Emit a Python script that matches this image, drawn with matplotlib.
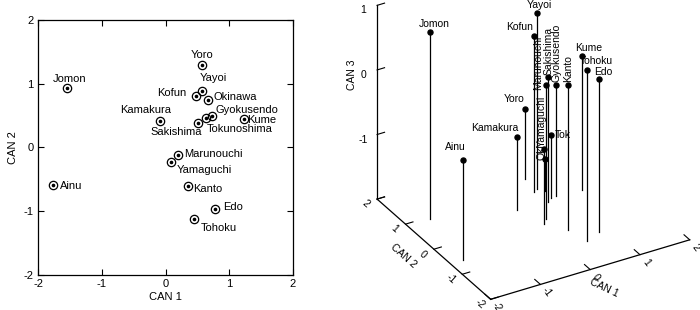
import matplotlib
matplotlib.use('Agg')
import matplotlib.pyplot as plt
import matplotlib.transforms as mtransforms

plt.rcParams['font.family'] = ['Liberation Sans', 'DejaVu Sans']
plt.rcParams['axes.unicode_minus'] = False

# canonical scores
names = ['Jomon', 'Ainu', 'Yoro', 'Yayoi', 'Kofun', 'Okinawa', 'Kamakura', 'Gyokusendo',
         'Kume', 'Sakishima', 'Tokunoshima', 'Marunouchi', 'Yamaguchi', 'Kanto', 'Edo', 'Tohoku']
can1 = [-1.55, -1.76, 0.57, 0.58, 0.48, 0.66, -0.09, 0.73, 1.23, 0.51, 0.63, 0.20, 0.08, 0.35, 0.77, 0.44]
can2 = [0.93, -0.59, 1.29, 0.89, 0.81, 0.75, 0.42, 0.50, 0.45, 0.39, 0.47, -0.11, -0.22, -0.61, -0.97, -1.12]
can3 = [0.90, -0.45, -0.92, 0.72, 0.41, -1.50, -0.87, -0.28, 0.07, -0.06, -1.02, 0.08, -0.84, 0.24, 0.37, 0.64]
# labels as printed in the 3-D panel (two are cut short there)
names3d = ['Jomon', 'Ainu', 'Yoro', 'Yayoi', 'Kofun', 'Oki', 'Kamakura', 'Gyokusendo',
           'Kume', 'Sakishima', 'Tok', 'Marunouchi', 'Yamaguchi', 'Kanto', 'Edo', 'Tohoku']
ticks = [-2, -1, 0, 1, 2]
zticks = [-1, 0, 1]

# label offsets in pixels (dx, dy, ha)
lab2d = {
    'Jomon': (3, 9, 'center'), 'Ainu': (7, -1, 'left'), 'Yoro': (0, 10, 'center'),
    'Yayoi': (11, 13, 'center'), 'Kofun': (-10, 3, 'right'), 'Okinawa': (6, 3, 'left'),
    'Kamakura': (-14, 11, 'center'), 'Gyokusendo': (3, 6, 'left'), 'Kume': (3, -1, 'left'),
    'Sakishima': (-22, -9, 'center'), 'Tokunoshima': (1, -11, 'left'),
    'Marunouchi': (6, 1, 'left'), 'Yamaguchi': (6, -8, 'left'), 'Kanto': (5, -3, 'left'),
    'Edo': (9, 2, 'left'), 'Tohoku': (7, -9, 'left'),
}
# 3-D labels: (dx, dy, ha, va, vertical)
lab3d = {
    'Jomon': (4, 8, 'center', 'center', False), 'Ainu': (-7, 13, 'center', 'center', False),
    'Yoro': (-11, 10, 'center', 'center', False), 'Yayoi': (2, 8, 'center', 'center', False),
    'Kofun': (-15, 9, 'center', 'center', False), 'Okinawa': (-3, -1, 'center', 'bottom', True),
    'Kamakura': (-22, 9, 'center', 'center', False), 'Gyokusendo': (1, 3, 'center', 'bottom', True),
    'Kume': (7, 8, 'center', 'center', False), 'Sakishima': (1, 2, 'center', 'bottom', True),
    'Tokunoshima': (3, 0, 'left', 'center', False), 'Marunouchi': (-8, -5, 'center', 'bottom', True),
    'Yamaguchi': (-2, 2, 'center', 'bottom', True), 'Kanto': (0, 3, 'center', 'bottom', True),
    'Edo': (4, 7, 'center', 'center', False), 'Tohoku': (9, 9, 'center', 'center', False),
}

fig = plt.figure(figsize=(7, 3.1), dpi=100)

# ---- left: CAN 1 vs CAN 2 ----
ax = fig.add_axes([0.0543, 0.1129, 0.3643, 0.8226])
ax.plot(can1, can2, 'o', ms=6, mfc='none', mec='k', mew=0.9, ls='none')
ax.plot(can1, can2, 'o', ms=1.6, color='k', ls='none')
for n, x, y in zip(names, can1, can2):
    dx, dy, ha = lab2d[n]
    ax.annotate(n, (x, y), xytext=(dx, dy), textcoords='offset pixels',
                ha=ha, va='center', fontsize=8)
ax.set_xlim(-2, 2)
ax.set_ylim(-2, 2)
ax.set_xticks(ticks)
ax.set_yticks(ticks)
ax.tick_params(direction='in', top=True, right=True, length=4, width=0.8, labelsize=8, pad=3)
for s in ax.spines.values():
    s.set_linewidth(0.9)
ax.set_xlabel('CAN 1', fontsize=8, labelpad=2)
ax.set_ylabel('CAN 2', fontsize=8, labelpad=4)

# ---- right: 3-D stems ----
ax3 = fig.add_axes([0.4729, -0.0481, 0.563, 1.271], projection='3d')
ax3.set_proj_type('ortho')
ax3.view_init(elev=30.9, azim=-120.2)
ax3.set_box_aspect((1.02, 1, 1.0), zoom=0.97)
ax3.set_xlim(-2, 2)
ax3.set_ylim(-2, 2)
ax3.set_zlim(-2, 1)
ax3.set_axis_off()


def off(dx, dy):
    return mtransforms.offset_copy(ax3.transData, fig=fig, x=dx, y=dy, units='dots')


for n, s, x, y, z in zip(names, names3d, can1, can2, can3):
    ax3.plot([x, x], [y, y], [-2, z], color='k', lw=0.9, marker='o', ms=3.6, markevery=[1])
    dx, dy, ha, va, vert = lab3d[n]
    ax3.text(x, y, z, s, zdir='z' if vert else None, transform=off(dx, dy),
             ha=ha, va=va, fontsize=7.5)

# box edges
ax3.plot([-2, -2], [2, 2], [-2, 1], color='k', lw=0.9)
ax3.plot([-2, -2], [2, -2], [-2, -2], color='k', lw=0.9)
ax3.plot([-2, 2], [-2, -2], [-2, -2], color='k', lw=0.9)
for t in [-2] + zticks:
    ax3.plot([-2, -1.85], [2, 2], [t, t], color='k', lw=0.8)
for t in zticks:
    ax3.text(-2, 2, t, str(t), transform=off(-14, -5), ha='center', va='center', fontsize=7.5)
for t in ticks:
    ax3.plot([-2, -1.85], [t, t], [-2, -2], color='k', lw=0.8)
    ax3.text(-2, t, -2, str(t), zdir=(0, -1, 0), transform=off(-11, -5),
             ha='center', va='center', fontsize=7.5)
    ax3.plot([t, t], [-2, -1.8], [-2, -2], color='k', lw=0.8)
    ax3.text(t, -2, -2, str(t), zdir=(0, -1, -0.2), transform=off(6, -8),
             ha='center', va='center', fontsize=7.5)
ax3.text(-2, 2, 0, 'CAN 3', zdir='z', transform=off(-25, -5), ha='center', va='center', fontsize=7.5)
ax3.text(-2, 0, -2, 'CAN 2', zdir=(0, -1, 0), transform=off(-30, -7), ha='center', va='center', fontsize=7.5)
ax3.text(0, -2, -2, 'CAN 1', zdir=(0.3, -1, 0), transform=off(14, -18), ha='center', va='center', fontsize=7.5)

fig.savefig('out.png', dpi=100, facecolor='white')
